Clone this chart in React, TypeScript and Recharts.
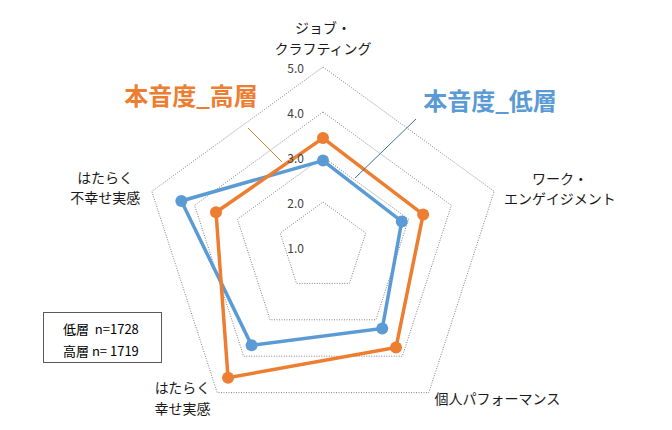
import React from 'react';
import { RadarChart, Radar, PolarGrid, PolarAngleAxis, PolarRadiusAxis } from 'recharts';

// axes, clockwise from the top
const categories = [
  'ジョブ・クラフティング',
  'ワーク・エンゲイジメント',
  '個人パフォーマンス',
  'はたらく幸せ実感',
  'はたらく不幸せ実感',
];
const categoryLines = [
  ['ジョブ・', 'クラフティング'],
  ['ワーク・', 'エンゲイジメント'],
  ['個人パフォーマンス'],
  ['はたらく', '幸せ実感'],
  ['はたらく', '不幸せ実感'],
];
const lowValues = [2.92, 2.84, 3.24, 3.7, 4.31];
const highValues = [3.42, 3.34, 3.76, 4.59, 3.5];
const radiusTicks = [1, 2, 3, 4, 5];

const colors = {
  low: '#5B9BD5',
  high: '#ED7D31',
  grid: '#808080',
  text: '#1a1a1a',
};

const FONT = '"Noto Sans CJK JP", "Noto Sans", sans-serif';

const data = categories.map((name, i) => ({
  name,
  low: lowValues[i],
  high: highValues[i],
}));

// label placement relative to the tick point of each axis
const labelOffsets = [
  { dx: 0, dy: [-32, -11], anchor: 'middle' },
  { dx: 58, dy: [-11, 9], anchor: 'middle' },
  { dx: 1, dy: [-1], anchor: 'start' },
  { dx: -30, dy: [-12, 9], anchor: 'middle' },
  { dx: -39, dy: [-12, 8], anchor: 'middle' },
];

const AngleTick = (props: any) => {
  const { x, y, payload } = props;
  const idx = categories.indexOf(payload.value);
  const off = labelOffsets[idx];
  return (
    <g>
      {categoryLines[idx].map((line, j) => (
        <text
          key={j}
          x={x + off.dx}
          y={y + off.dy[j]}
          textAnchor={off.anchor}
          dominantBaseline="central"
          fontSize={14}
          fontFamily={FONT}
          fill={colors.text}
        >
          {line}
        </text>
      ))}
    </g>
  );
};

const RadiusTick = (props: any) => {
  const { x, y, payload } = props;
  return (
    <text
      x={x - 19}
      y={y}
      textAnchor="end"
      dominantBaseline="central"
      fontSize={12}
      fontFamily={FONT}
      fill="#404040"
    >
      {Number(payload.value).toFixed(1)}
    </text>
  );
};

const makeDot = (color: string) => (props: any) => {
  const { cx, cy, index } = props;
  if (cx == null || cy == null) return <g key={index} />;
  return <circle key={index} cx={cx} cy={cy} r={6} fill={color} stroke="none" />;
};

export default function App() {
  return (
    <div style={{ position: 'fixed', left: 0, top: 0, width: 672, height: 430, background: '#fff' }}>
      <RadarChart
        width={672}
        height={430}
        data={data}
        cx={323}
        cy={247}
        outerRadius={180}
        margin={{ top: 0, right: 0, bottom: 0, left: 0 }}
      >
        <PolarGrid
          gridType="polygon"
          radialLines={false}
          stroke={colors.grid}
          strokeDasharray="1 1.5"
        />
        <PolarAngleAxis
          dataKey="name"
          tick={<AngleTick />}
          tickLine={false}
          axisLine={false}
        />
        <PolarRadiusAxis
          angle={90}
          domain={[1, 5]}
          ticks={radiusTicks as any}
          tickCount={5}
          axisLine={false}
          tickLine={false}
          tick={<RadiusTick />}
        />
        <Radar
          name="本音度_低層"
          dataKey="low"
          stroke={colors.low}
          strokeWidth={3.5}
          fill="none"
          fillOpacity={0}
          dot={makeDot(colors.low)}
          isAnimationActive={false}
        />
        <Radar
          name="本音度_高層"
          dataKey="high"
          stroke={colors.high}
          strokeWidth={3.5}
          fill="none"
          fillOpacity={0}
          dot={makeDot(colors.high)}
          isAnimationActive={false}
        />
      </RadarChart>

      {/* series callouts and sample-size box */}
      <svg
        width={672}
        height={430}
        style={{ position: 'absolute', left: 0, top: 0, pointerEvents: 'none' }}
      >
        <line x1={248} y1={128} x2={282} y2={162} stroke={colors.high} strokeWidth={1} />
        <line x1={416} y1={119} x2={355} y2={178} stroke="#41718f" strokeWidth={1} />
        <text
          x={191}
          y={94}
          textAnchor="middle"
          dominantBaseline="central"
          fontSize={24}
          fontWeight="bold"
          fontFamily={FONT}
          fill={colors.high}
        >
          本音度_高層
        </text>
        <text
          x={490}
          y={99}
          textAnchor="middle"
          dominantBaseline="central"
          fontSize={24}
          fontWeight="bold"
          fontFamily={FONT}
          fill={colors.low}
        >
          本音度_低層
        </text>
        <rect x={43.5} y={312.5} width={118} height={50} fill="#fff" stroke="#595959" strokeWidth={1} />
        <text
          x={63}
          y={328}
          dominantBaseline="central"
          fontSize={13}
          fontFamily={FONT}
          fill="#000"
          style={{ whiteSpace: 'pre' }}
        >
          {'低層  n=1728'}
        </text>
        <text
          x={63}
          y={350}
          dominantBaseline="central"
          fontSize={13}
          fontFamily={FONT}
          fill="#000"
          style={{ whiteSpace: 'pre' }}
        >
          {'高層 n= 1719'}
        </text>
      </svg>
    </div>
  );
}
